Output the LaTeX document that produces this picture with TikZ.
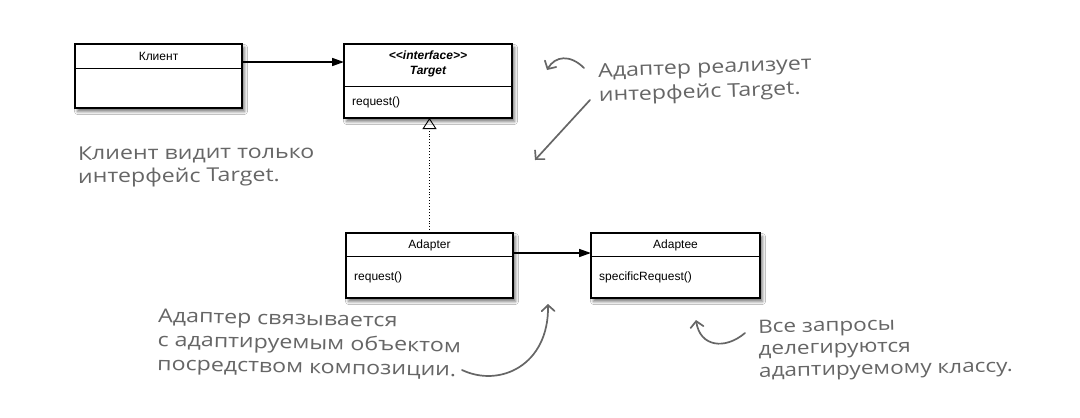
\documentclass[tikz,border=0pt]{standalone}
\usepackage{fontspec}
\setmainfont{Liberation Sans}
\newfontfamily\hand[FakeStretch=1.22]{Open Sans}
\usetikzlibrary{arrows.meta,shadows.blur,calc}
\definecolor{handgray}{HTML}{666666}
\tikzset{
 umlbox/.style={draw=black, line width=1.1pt, fill=white, inner sep=0pt, outer sep=0pt, anchor=north west,
   blur shadow={shadow xshift=2.5pt, shadow yshift=-3.5pt, shadow blur radius=3pt, shadow opacity=55}},
 umltext/.style={font=\fontsize{12}{14}\selectfont, inner sep=0pt},
 umlbold/.style={font=\fontsize{12}{14}\selectfont\bfseries\itshape, inner sep=0pt},
 divider/.style={line width=0.8pt},
 note/.style={font=\hand\fontsize{19}{23}\selectfont, text=handgray, align=left, inner sep=0pt, anchor=base west},
 notearrow/.style={draw=handgray, line width=1.7pt, line cap=round, -{Straight Barb[length=6pt,width=13pt,line cap=round]}},
 assoc/.style={line width=1.6pt, -{Triangle[length=12pt,width=8pt]}},
 realize/.style={line width=0.9pt, dotted, -{Triangle[open,length=11pt,width=14pt,line width=0.9pt]}},
}
\begin{document}
\begin{tikzpicture}[x=1pt,y=-1pt]
\useasboundingbox[fill=white] (0,0) rectangle (1080,418);
% boxes
\node[umlbox, minimum width=167pt, minimum height=64pt] (client) at (75,44) {};
\node[umlbox, minimum width=168pt, minimum height=74pt] (target) at (344,44) {};
\node[umlbox, minimum width=167pt, minimum height=65pt] (adapter) at (346,233) {};
\node[umlbox, minimum width=169pt, minimum height=65pt] (adaptee) at (591,233) {};
% dividers
\draw[divider] (client.west |- 0,68) -- (client.east |- 0,68);
\draw[divider] (target.west |- 0,86) -- (target.east |- 0,86);
\draw[divider] (adapter.west |- 0,256) -- (adapter.east |- 0,256);
\draw[divider] (adaptee.west |- 0,256) -- (adaptee.east |- 0,256);
% texts
\node[umltext] (clientname) at (client.north |- 0,56) {Клиент};
\node[umlbold] (tstereo) at (target.north |- 0,55) {<{}<interface>{}>};
\node[umlbold] (tname) at (target.north |- 0,72) {Target};
\node[umltext, anchor=west] (treq) at (352,102) {request()};
\node[umltext] (adname) at (adapter.north |- 0,245) {Adapter};
\node[umltext, anchor=west] (adreq) at (354,277) {request()};
\node[umltext] (adtname) at (adaptee.north |- 0,245) {Adaptee};
\node[umltext, anchor=west] (adtreq) at (599,277) {specificRequest()};
% connectors
\coordinate (c1) at ([yshift=14pt]client.east);
\draw[assoc] (c1) -- (c1 -| target.west);
\coordinate (c2) at ([yshift=12.5pt]adapter.east);
\draw[assoc] (c2) -- (c2 -| adaptee.west);
\draw[realize] (adapter.north) -- (adapter.north |- target.south);
% notes (anchor = baseline of last line)
\node[note, rotate=2, font=\hand\fontsize{19}{24.5}\selectfont] (n1) at (599,101.5) {Адаптер реализует\\интерфейс Target.};
\node[note, rotate=0.5] (n2) at (78,183) {Клиент видит только\\интерфейс Target.};
\node[note, rotate=-1.2, font=\hand\fontsize{19}{24}\selectfont] (n3) at (157,370) {Адаптер связывается\\с адаптируемым объектом\\посредством композиции.};
\node[note, rotate=1.2, font=\hand\fontsize{18.5}{22}\selectfont] (n4) at (759,377) {Все запросы\\делегируются\\адаптируемому классу.};
% note arrows
\coordinate (a1s) at (584,68);
\coordinate (a1e) at (547,70);
\draw[notearrow] (a1s) .. controls (570,54) and (555,56) .. (a1e);
\coordinate (a2s) at (590,100);
\coordinate (a2e) at (535,160);
\draw[notearrow] (a2s) -- (a2e);
\coordinate (a3s) at (462,370);
\coordinate (a3e) at (548,304);
\draw[notearrow] (a3s) .. controls (500,388) and (549,365) .. (a3e);
\coordinate (a4s) at (745,333);
\coordinate (a4e) at (696,320);
\draw[notearrow] (a4s) .. controls (725,350) and (700,347) .. (a4e);
\end{tikzpicture}
\end{document}
